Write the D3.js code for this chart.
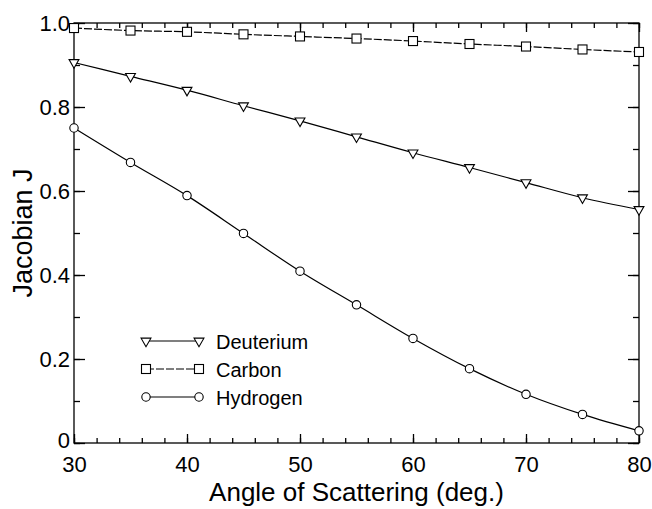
<!DOCTYPE html>
<html lang="en">
<head>
<meta charset="utf-8">
<title>Jacobian J vs angle of scattering</title>
<script src="https://d3js.org/d3.v7.min.js"></script>
<style>
  body { margin: 0; background: #fff; }
  svg { font-family: "Liberation Sans", Arial, Helvetica, sans-serif; }
  .axis path, .axis line { stroke: #000; stroke-width: 1.3px; }
  .axis text { font-size: 22px; fill: #000; }
  .line { fill: none; stroke: #000; stroke-width: 1.2px; }
  .mark { fill: #fff; stroke: #000; stroke-width: 1.1px; }
</style>
</head>
<body>
<div id="chart"></div>
<script>
// data
var angles    = [30, 35, 40, 45, 50, 55, 60, 65, 70, 75, 80];
var deuterium = [0.906, 0.873, 0.840, 0.803, 0.767, 0.729, 0.691, 0.656, 0.620, 0.584, 0.556];
var carbon    = [0.988, 0.982, 0.979, 0.973, 0.968, 0.963, 0.957, 0.950, 0.944, 0.937, 0.931];
var hydrogen  = [0.750, 0.668, 0.589, 0.499, 0.409, 0.329, 0.249, 0.177, 0.116, 0.068, 0.029];

var xTicks = [30, 40, 50, 60, 70, 80];
var yTicks = [0, 0.2, 0.4, 0.6, 0.8, 1.0];
var yTickLabels = ["0", "0.2", "0.4", "0.6", "0.8", "1.0"];
var seriesNames = ["Deuterium", "Carbon", "Hydrogen"];

var margin = {top: 23, right: 13, bottom: 66, left: 74},
    width = 652 - margin.left - margin.right,
    height = 509 - margin.top - margin.bottom;

var x = d3.scaleLinear().domain([30, 80]).range([0, width]);
var y = d3.scaleLinear().domain([0, 1]).range([height, 0]);

var svg = d3.select("#chart").append("svg")
    .attr("width", 652)
    .attr("height", 509);

var g = svg.append("g")
    .attr("transform", "translate(" + margin.left + "," + margin.top + ")");

// frame
g.append("rect")
    .attr("width", width).attr("height", height)
    .attr("fill", "none").attr("stroke", "#000").attr("stroke-width", 1.3);

// minor ticks (every 2 deg, every 0.1)
var xMinor = d3.range(30, 81, 2), yMinor = d3.range(0, 1.01, 0.1);
function noLabels(a) { return a.tickFormat(""); }

g.append("g").attr("class", "axis").attr("transform", "translate(0," + height + ")")
    .call(noLabels(d3.axisBottom(x).tickValues(xMinor).tickSize(-5)));
g.append("g").attr("class", "axis")
    .call(noLabels(d3.axisTop(x).tickValues(xMinor).tickSize(-5)));
g.append("g").attr("class", "axis")
    .call(noLabels(d3.axisLeft(y).tickValues(yMinor).tickSize(-6)));
g.append("g").attr("class", "axis").attr("transform", "translate(" + width + ",0)")
    .call(noLabels(d3.axisRight(y).tickValues(yMinor).tickSize(-6)));

// major ticks + labels
g.append("g").attr("class", "axis").attr("transform", "translate(0," + height + ")")
    .call(d3.axisBottom(x).tickValues(xTicks).tickSize(-9).tickPadding(13).tickFormat(d3.format("d")));
g.append("g").attr("class", "axis")
    .call(noLabels(d3.axisTop(x).tickValues(xTicks).tickSize(-9)));
var yAxisG = g.append("g").attr("class", "axis")
    .call(d3.axisLeft(y).tickValues(yTicks).tickSize(-11).tickPadding(4)
        .tickFormat(function(d, i) { return yTickLabels[i]; }));
g.append("g").attr("class", "axis").attr("transform", "translate(" + width + ",0)")
    .call(noLabels(d3.axisRight(y).tickValues(yTicks).tickSize(-11)));

// lift the "0" a touch so it clears the "30" below it
yAxisG.selectAll(".tick text").filter(function(d) { return d === 0; }).attr("y", -3);

g.selectAll(".axis .domain").remove();

// axis titles
svg.append("text")
    .attr("x", margin.left + width / 2).attr("y", 501)
    .attr("text-anchor", "middle").attr("font-size", 26)
    .text("Angle of Scattering (deg.)");
svg.append("text")
    .attr("transform", "translate(32," + (margin.top + height / 2) + ") rotate(-90)")
    .attr("text-anchor", "middle").attr("font-size", 27)
    .text("Jacobian J");

// markers
var tri = d3.symbol().type(d3.symbolTriangle).size(42);
function drawMark(sel, kind) {
    if (kind === "Deuterium") {
        sel.append("path").attr("class", "mark").attr("d", tri).attr("transform", "rotate(180)");
    } else if (kind === "Carbon") {
        sel.append("rect").attr("class", "mark")
            .attr("x", -4.5).attr("y", -4.5).attr("width", 9).attr("height", 9);
    } else {
        sel.append("circle").attr("class", "mark").attr("r", 4.2);
    }
}

var series = [
    {name: "Deuterium", values: deuterium, dash: null},
    {name: "Carbon", values: carbon, dash: "8,2"},
    {name: "Hydrogen", values: hydrogen, dash: null}
];

var line = d3.line()
    .x(function(d, i) { return x(angles[i]); })
    .y(function(d) { return y(d); })
    .curve(d3.curveMonotoneX);

series.forEach(function(s) {
    g.append("path")
        .datum(s.values)
        .attr("class", "line")
        .attr("stroke-dasharray", s.dash)
        .attr("d", line);

    g.selectAll(".pt-" + s.name)
        .data(s.values)
        .enter().append("g")
        .attr("transform", function(d, i) { return "translate(" + x(angles[i]) + "," + y(d) + ")"; })
        .each(function() { drawMark(d3.select(this), s.name); });
});

// legend
var legend = svg.append("g");
seriesNames.forEach(function(name, i) {
    var s = series[i];
    var ly = 341 + i * 28;
    var row = legend.append("g").attr("transform", "translate(0," + ly + ")");
    row.append("line").attr("class", "line")
        .attr("x1", 146).attr("x2", 199).attr("y1", 0).attr("y2", 0)
        .attr("stroke-dasharray", s.dash);
    [146, 199].forEach(function(px) {
        var m = row.append("g").attr("transform", "translate(" + px + ",0)");
        drawMark(m, name);
    });
    row.append("text")
        .attr("x", 216).attr("y", 7.5)
        .attr("font-size", 20)
        .text(name);
});
</script>
</body>
</html>
